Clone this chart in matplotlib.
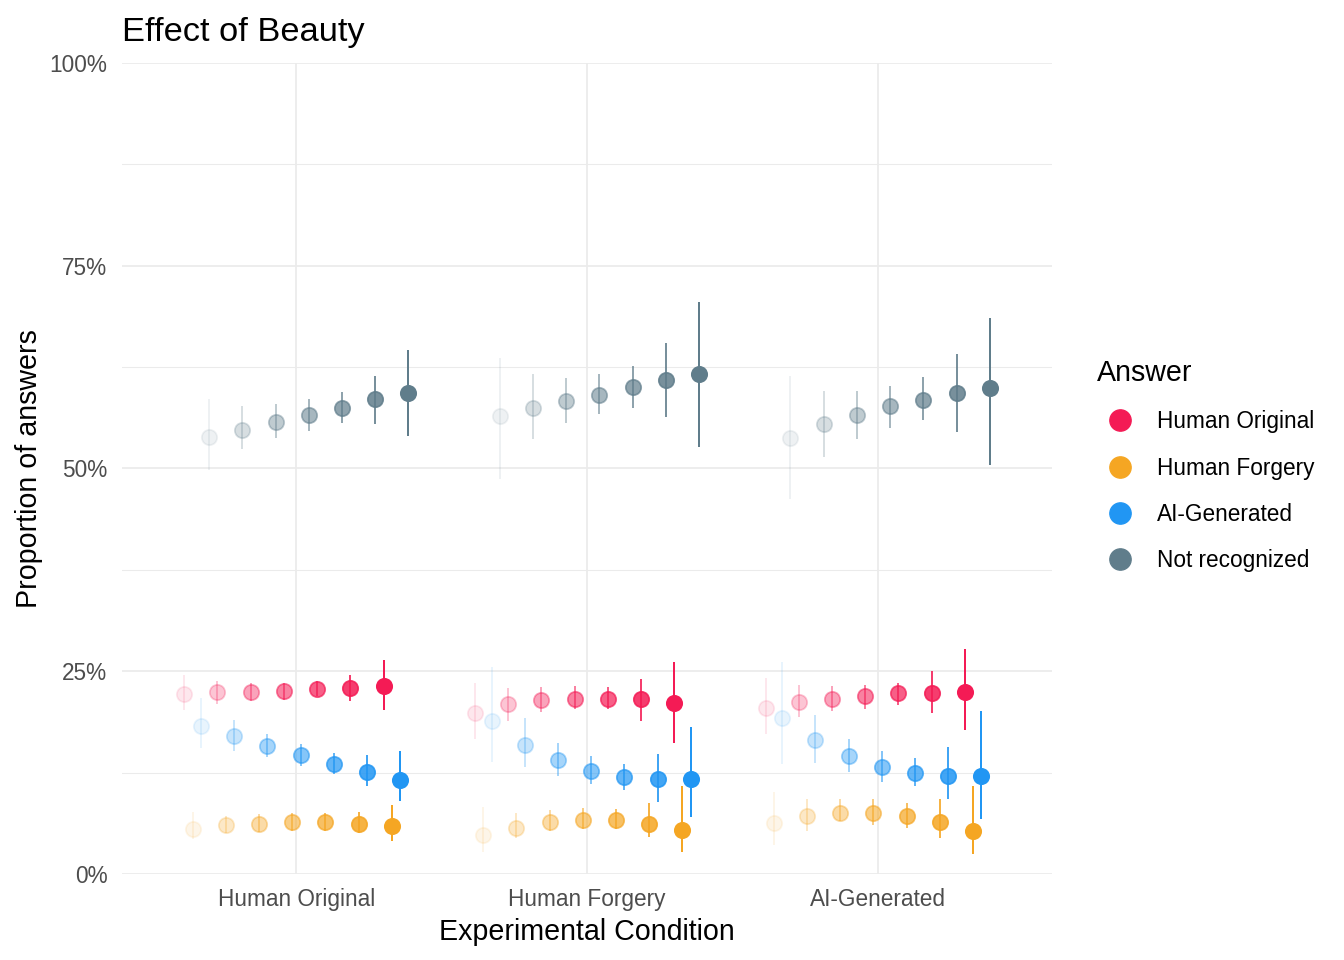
import numpy as np
import matplotlib
matplotlib.use("Agg")
import matplotlib.pyplot as plt
from matplotlib.lines import Line2D

plt.rcParams['font.family'] = ['Liberation Sans', 'DejaVu Sans']

conditions = ['Human Original', 'Human Forgery', 'AI-Generated']
answers = ['Human Original', 'Human Forgery', 'AI-Generated', 'Not recognized']
colors = ['#F41B55', '#F5A623', '#2196F3', '#607D8B']
beauty_levels = [1, 2, 3, 4, 5, 6, 7]

# estimates in %, one row per experimental condition, 7 beauty levels each
ho_est = [[22.2, 22.4, 22.4, 22.6, 22.8, 22.9, 23.2],
          [19.9, 21.0, 21.4, 21.6, 21.6, 21.6, 21.1],
          [20.5, 21.2, 21.6, 21.9, 22.3, 22.3, 22.4]]
ho_lo = [[20.2, 21.0, 21.3, 21.5, 21.9, 21.3, 20.2],
         [16.6, 18.9, 20.0, 20.4, 20.4, 18.9, 16.1],
         [17.3, 19.4, 20.1, 20.4, 20.8, 19.9, 17.8]]
ho_hi = [[24.5, 23.8, 23.6, 23.6, 23.8, 24.5, 26.4],
         [23.6, 22.9, 23.0, 23.2, 23.1, 24.0, 26.1],
         [24.2, 23.3, 23.2, 23.3, 23.6, 25.0, 27.8]]

hf_est = [[5.6, 6.0, 6.2, 6.4, 6.4, 6.2, 5.9],
          [4.8, 5.7, 6.4, 6.7, 6.6, 6.2, 5.4],
          [6.3, 7.1, 7.5, 7.5, 7.2, 6.4, 5.3]]
hf_lo = [[4.3, 5.0, 5.2, 5.3, 5.3, 5.0, 4.1],
         [2.7, 4.5, 5.3, 5.5, 5.6, 4.6, 2.7],
         [3.6, 5.3, 6.5, 6.0, 5.7, 4.5, 2.5]]
hf_hi = [[7.6, 7.1, 7.4, 7.5, 7.5, 7.7, 8.5],
         [8.2, 7.5, 7.9, 8.1, 8.0, 8.7, 10.8],
         [10.1, 9.2, 9.3, 9.2, 8.8, 9.2, 10.8]]

ai_est = [[18.2, 17.0, 15.8, 14.7, 13.6, 12.6, 11.6],
          [18.9, 15.9, 14.0, 12.7, 11.9, 11.7, 11.7],
          [19.2, 16.5, 14.5, 13.2, 12.4, 12.1, 12.1]]
ai_lo = [[15.5, 15.2, 14.4, 13.3, 12.3, 10.9, 9.0],
         [13.8, 13.2, 12.1, 11.1, 10.4, 8.9, 7.0],
         [13.6, 13.7, 12.6, 11.4, 10.8, 9.2, 6.8]]
ai_hi = [[21.7, 19.0, 17.3, 16.0, 14.9, 14.7, 15.2],
         [25.5, 19.2, 16.2, 14.5, 13.6, 14.8, 18.1],
         [26.1, 19.6, 16.6, 15.2, 14.3, 15.6, 20.1]]

nr_est = [[53.9, 54.7, 55.7, 56.6, 57.5, 58.6, 59.3],
          [56.5, 57.5, 58.3, 59.1, 60.0, 60.9, 61.7],
          [53.8, 55.5, 56.6, 57.7, 58.5, 59.3, 59.9]]
nr_lo = [[49.8, 52.4, 53.8, 54.6, 55.6, 55.5, 54.0],
         [48.7, 53.6, 55.6, 56.7, 57.5, 56.3, 52.6],
         [46.2, 51.4, 53.6, 55.0, 56.0, 54.5, 50.4]]
nr_hi = [[58.6, 57.7, 58.0, 58.6, 59.4, 61.4, 64.6],
         [63.6, 61.7, 61.1, 61.7, 62.6, 65.5, 70.5],
         [61.4, 59.5, 59.6, 60.2, 61.3, 64.1, 68.6]]

est = [ho_est, hf_est, ai_est, nr_est]
lo = [ho_lo, hf_lo, ai_lo, nr_lo]
hi = [ho_hi, hf_hi, ai_hi, nr_hi]

fig = plt.figure(figsize=(14, 10), dpi=96)
ax = fig.add_axes([122/1344, 86/960, 930/1344, 811/960])

alphas = np.linspace(0.1, 1.0, len(beauty_levels))
n_groups = len(beauty_levels) * len(answers)
step = 0.8 / n_groups

for c in range(len(conditions)):
    for a in range(len(answers)):
        for b in range(len(beauty_levels)):
            i = b * len(answers) + a
            x = c + 1 + (i - (n_groups - 1) / 2) * step
            ax.vlines(x, lo[a][c][b] / 100, hi[a][c][b] / 100, color=colors[a],
                      alpha=alphas[b], lw=1.5, zorder=2)
            ax.plot(x, est[a][c][b] / 100, 'o', ms=11.5, color=colors[a],
                    mec=colors[a], mew=1.3, alpha=alphas[b], zorder=3)

ax.set_xlim(0.4, 3.6)
ax.set_ylim(0, 1)
ax.set_xticks([1, 2, 3])
ax.set_xticklabels(conditions)
ax.set_yticks([0, 0.25, 0.5, 0.75, 1.0])
ax.set_yticklabels(['0%', '25%', '50%', '75%', '100%'])
ax.set_yticks([0.125, 0.375, 0.625, 0.875], minor=True)
ax.tick_params(axis='both', which='both', length=0, labelsize=17, labelcolor='#4D4D4D')
ax.tick_params(axis='y', pad=11)
ax.tick_params(axis='x', pad=10.5)
ax.grid(True, which='major', color='#EBEBEB', lw=1.3, zorder=0)
ax.grid(True, which='minor', axis='y', color='#EBEBEB', lw=0.8, zorder=0)
ax.set_axisbelow(True)
for s in ax.spines.values():
    s.set_visible(False)

ax.set_xlabel('Experimental Condition', fontsize=21.5, labelpad=5.5)
ax.set_ylabel('Proportion of answers', fontsize=21.5, labelpad=5)
fig.text(122/1344, 1 - 41/960, 'Effect of Beauty', fontsize=25.8, va='baseline', ha='left')

handles = [Line2D([], [], marker='o', ls='none', ms=16, color=col) for col in colors]
leg = fig.legend(handles, answers, title='Answer', loc='center left',
                 bbox_to_anchor=(1097/1344, 1 - 465.5/960), frameon=False,
                 fontsize=17, title_fontsize=21.5, alignment='left',
                 handlelength=2.0, handletextpad=0.65, labelspacing=1.03, borderpad=0,
                 borderaxespad=0)

fig.savefig('out.png', dpi=96)
